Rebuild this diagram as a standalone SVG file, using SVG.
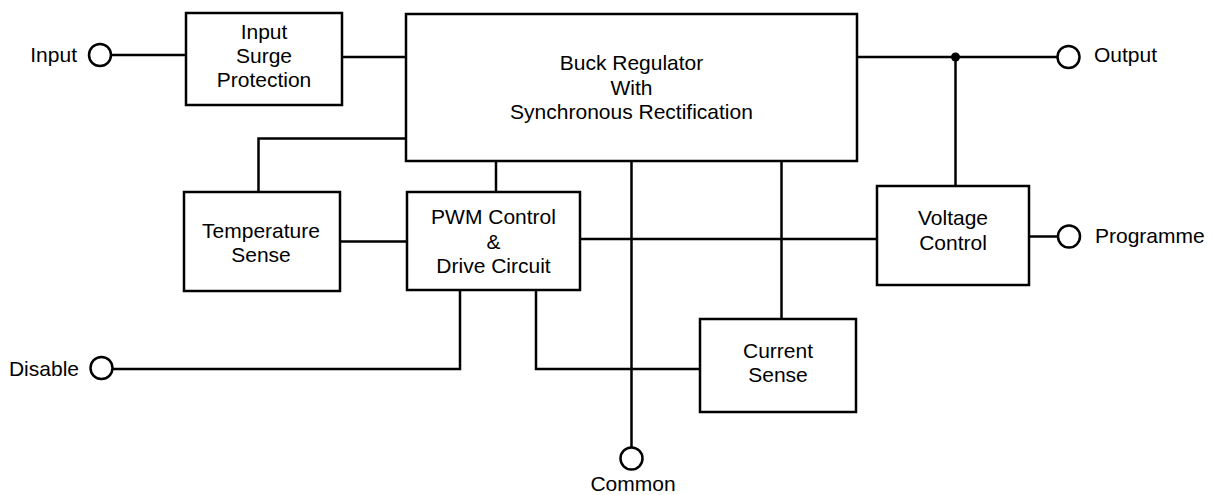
<svg xmlns="http://www.w3.org/2000/svg" width="1214" height="495" viewBox="0 0 1214 495">
<style>
.box{fill:#fff;stroke:#000;stroke-width:2.5}
.w{fill:none;stroke:#000;stroke-width:2.5}
.term{fill:#fff;stroke:#000;stroke-width:2.5}
text{font-family:"Liberation Sans",Arial,sans-serif;font-size:21px;fill:#000}
.c{text-anchor:middle}
</style>
<rect width="1214" height="495" fill="#fff"/>
<g id="connectors">
<path class="w" d="M112,55 H186"/>
<path class="w" d="M342,57 H406"/>
<path class="w" d="M406,138.5 H258.5 V192"/>
<path class="w" d="M340,241.5 H407"/>
<path class="w" d="M496,161 V192"/>
<path class="w" d="M631.5,161 V447"/>
<path class="w" d="M781.5,161 V319"/>
<path class="w" d="M580,239 H877"/>
<path class="w" d="M857,57 H1057"/>
<path class="w" d="M955.5,57 V186"/>
<path class="w" d="M1029,236.5 H1057"/>
<path class="w" d="M113,369 H460 V290"/>
<path class="w" d="M536,290 V369 H700"/>
<circle cx="955.5" cy="57" r="4.5" fill="#000"/>
</g>
<g id="input-term"><circle class="term" cx="100" cy="55" r="11"/><text x="77" y="62" text-anchor="end">Input</text></g>
<g id="disable-term"><circle class="term" cx="101.5" cy="368" r="11"/><text x="79" y="376" text-anchor="end">Disable</text></g>
<g id="output-term"><circle class="term" cx="1068.5" cy="57" r="11"/><text x="1094" y="62">Output</text></g>
<g id="programme-term"><circle class="term" cx="1069" cy="236.5" r="11"/><text x="1095" y="243">Programme</text></g>
<g id="common-term"><circle class="term" cx="631.5" cy="458.5" r="11"/><text class="c" x="633" y="491">Common</text></g>
<g id="surge"><rect class="box" x="186" y="13" width="156" height="92"/>
<text class="c" x="264" y="39">Input</text><text class="c" x="264" y="63">Surge</text><text class="c" x="264" y="87">Protection</text></g>
<g id="buck"><rect class="box" x="406" y="14" width="451" height="147"/>
<text class="c" x="631.5" y="70">Buck Regulator</text><text class="c" x="631.5" y="94.5">With</text><text class="c" x="631.5" y="119">Synchronous Rectification</text></g>
<g id="temp"><rect class="box" x="184" y="192" width="156" height="99"/>
<text class="c" x="261" y="238">Temperature</text><text class="c" x="261" y="262">Sense</text></g>
<g id="pwm"><rect class="box" x="407" y="192" width="173" height="98"/>
<text class="c" x="493.5" y="224">PWM Control</text><text class="c" x="493.5" y="249">&amp;</text><text class="c" x="493.5" y="273">Drive Circuit</text></g>
<g id="current"><rect class="box" x="700" y="319" width="156" height="93"/>
<text class="c" x="778" y="358">Current</text><text class="c" x="778" y="382">Sense</text></g>
<g id="voltage"><rect class="box" x="877" y="186" width="152" height="99"/>
<text class="c" x="953" y="225">Voltage</text><text class="c" x="953" y="250">Control</text></g>
</svg>
